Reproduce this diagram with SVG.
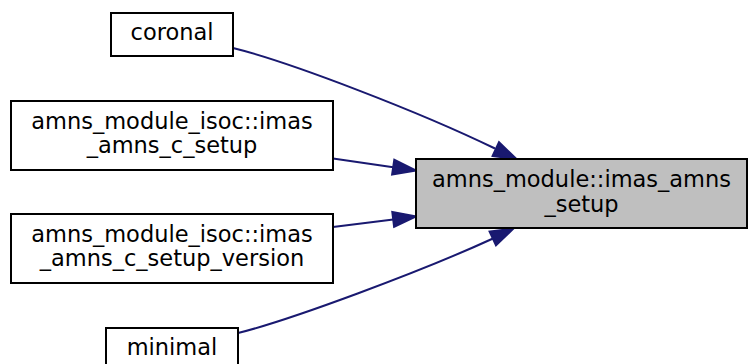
<svg xmlns="http://www.w3.org/2000/svg" width="748" height="364" viewBox="0 0 748 364">
<style>
.box{fill:#ffffff;stroke:#000000;stroke-width:2}
.main{fill:#bfbfbf;stroke:#000000;stroke-width:2}
text{font-family:"DejaVu Sans",sans-serif;font-size:22.5px;fill:#000000;text-anchor:middle}
.edge{fill:none;stroke:#191970;stroke-width:2}
.head{fill:#191970;stroke:#191970;stroke-width:2}
</style>
<rect width="748" height="364" fill="#ffffff"/>
<g id="edges">
<path class="edge" d="M233,48 C290,62 420,112 495,148.5"/>
<polygon class="head" points="492.6,155.9 516.5,159 499,142.3"/>
<path class="edge" d="M333,158.5 L393.2,167.2"/>
<polygon class="head" points="392.1,174.6 416,170.5 394.3,159.8"/>
<path class="edge" d="M333,227 L393.2,219.4"/>
<polygon class="head" points="394.1,226.8 416,216.5 392.3,212"/>
<path class="edge" d="M238,333 C290,320 420,272 493,238.5"/>
<polygon class="head" points="496,245.2 513.5,228.5 489.6,231.6"/>
</g>
<g id="node_main">
<rect class="main" x="416" y="159" width="331" height="69"/>
<text x="581.5" y="186.5">amns_module::imas_amns</text>
<text x="581.5" y="211.5">_setup</text>
</g>
<g id="node_coronal">
<rect class="box" x="111" y="13" width="122" height="43"/>
<text x="172" y="40">coronal</text>
</g>
<g id="node_c_setup">
<rect class="box" x="11" y="101" width="322" height="69"/>
<text x="172" y="128.5">amns_module_isoc::imas</text>
<text x="172" y="153">_amns_c_setup</text>
</g>
<g id="node_c_setup_version">
<rect class="box" x="11" y="214" width="322" height="69"/>
<text x="172" y="241.5">amns_module_isoc::imas</text>
<text x="172" y="266">_amns_c_setup_version</text>
</g>
<g id="node_minimal">
<rect class="box" x="106" y="328" width="132" height="43"/>
<text x="172" y="355">minimal</text>
</g>
</svg>
